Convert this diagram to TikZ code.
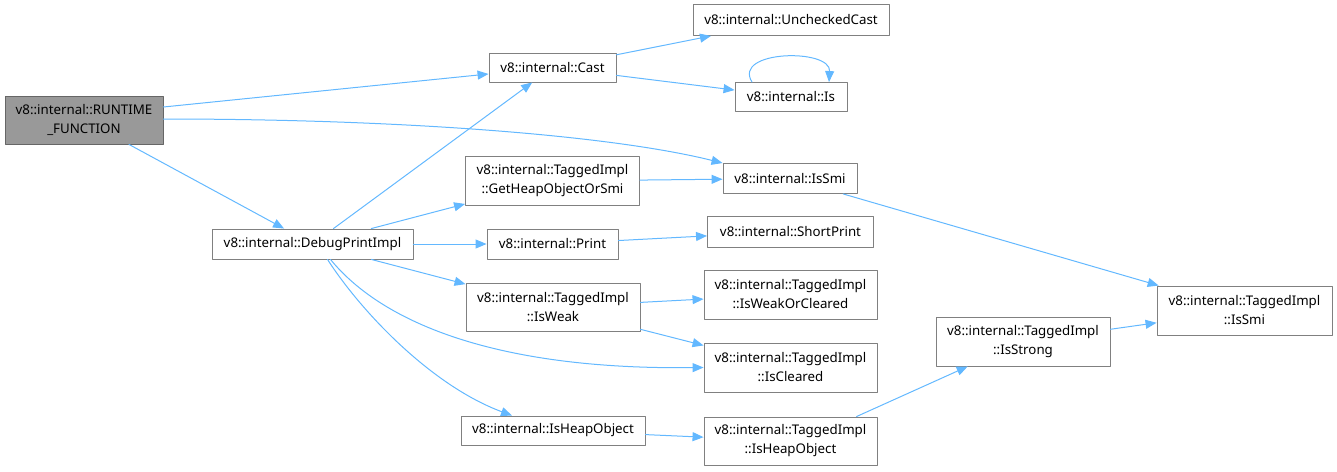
\documentclass[tikz,border=0pt]{standalone}
\usepackage{fontspec}
\setmainfont{Noto Sans}
\usetikzlibrary{arrows.meta}
\definecolor{edgeblue}{HTML}{63B8FF}
\definecolor{boxline}{HTML}{808080}
\definecolor{rootfill}{HTML}{999999}
\definecolor{rootline}{HTML}{666666}
\begin{document}
\begin{tikzpicture}[x=1pt,y=-1pt,line cap=round,line join=round,
  fn/.style={draw=boxline,fill=white,line width=0.9pt,inner sep=0pt,align=center,
    font=\fontsize{13.3}{19}\selectfont},
  root/.style={fn,draw=rootline,fill=rootfill},
  call/.style={draw=edgeblue,line width=1pt,-{Triangle[length=11pt,width=9pt]}}]
  \useasboundingbox (0,0) rectangle (1337,471);
  % functions
  \node[root,minimum width=158pt,minimum height=48pt] (runtime) at (84,120) {v8::internal::RUNTIME\\\_FUNCTION};
  \node[fn,minimum width=201pt,minimum height=30pt] (debugprint) at (312.5,244) {v8::internal::DebugPrintImpl};
  \node[fn,minimum width=127pt,minimum height=29pt] (cast) at (552.5,67.5) {v8::internal::Cast};
  \node[fn,minimum width=196pt,minimum height=31pt] (unchecked) at (791,20) {v8::internal::UncheckedCast};
  \node[fn,minimum width=112pt,minimum height=29pt] (is) at (791,97) {v8::internal::Is};
  \node[fn,minimum width=134pt,minimum height=30pt] (issmi) at (790,178.5) {v8::internal::IsSmi};
  \node[fn,minimum width=174pt,minimum height=49pt] (getheap) at (552.5,181) {v8::internal::TaggedImpl\\::GetHeapObjectOrSmi};
  \node[fn,minimum width=131pt,minimum height=30pt] (print) at (552.5,244) {v8::internal::Print};
  \node[fn,minimum width=166pt,minimum height=31pt] (shortprint) at (790.5,231.5) {v8::internal::ShortPrint};
  \node[fn,minimum width=174pt,minimum height=48pt] (isweak) at (553,307) {v8::internal::TaggedImpl\\::IsWeak};
  \node[fn,minimum width=173pt,minimum height=49pt] (weakorcleared) at (790.5,294.5) {v8::internal::TaggedImpl\\::IsWeakOrCleared};
  \node[fn,minimum width=173pt,minimum height=49pt] (iscleared) at (790.5,367.5) {v8::internal::TaggedImpl\\::IsCleared};
  \node[fn,minimum width=184pt,minimum height=29pt] (isheapobj) at (553,430.5) {v8::internal::IsHeapObject};
  \node[fn,minimum width=173pt,minimum height=48pt] (taggedheapobj) at (790.5,441) {v8::internal::TaggedImpl\\::IsHeapObject};
  \node[fn,minimum width=174pt,minimum height=49pt] (isstrong) at (1023,341.5) {v8::internal::TaggedImpl\\::IsStrong};
  \node[fn,minimum width=175pt,minimum height=49pt] (taggedsmi) at (1244.5,310.5) {v8::internal::TaggedImpl\\::IsSmi};
  % calls
  \draw[call] ([yshift=13pt]runtime.east) -- (cast);
  \draw[call] ([yshift=1pt]runtime.east) .. controls (400,119) and (610,135) .. (issmi.north west);
  \draw[call] (runtime) -- (debugprint);
  \draw[call] (cast) -- (unchecked);
  \draw[call] (cast) -- (is);
  \draw[call] ([xshift=-39pt]is.north) .. controls +(-20,-32) and +(2,-34) .. ([xshift=38pt]is.north);
  \draw[call] (debugprint) -- (cast);
  \draw[call] (debugprint) -- (getheap);
  \draw[call] (debugprint) -- (print);
  \draw[call] (debugprint) -- (isweak);
  \draw[call] ([xshift=18pt]debugprint.south) .. controls (380,320) and (490,370) .. (iscleared.west);
  \draw[call] ([xshift=15pt]debugprint.south) .. controls (360,310) and (430,385) .. ([xshift=-41pt]isheapobj.north);
  \draw[call] (getheap) -- (issmi);
  \draw[call] (issmi) -- (taggedsmi);
  \draw[call] (print) -- (shortprint);
  \draw[call] (isweak) -- (weakorcleared);
  \draw[call] (isweak) -- (iscleared);
  \draw[call] (isheapobj) -- (taggedheapobj);
  \draw[call] ([xshift=66pt]taggedheapobj.north) -- (isstrong);
  \draw[call] (isstrong) -- (taggedsmi);
\end{tikzpicture}
\end{document}
